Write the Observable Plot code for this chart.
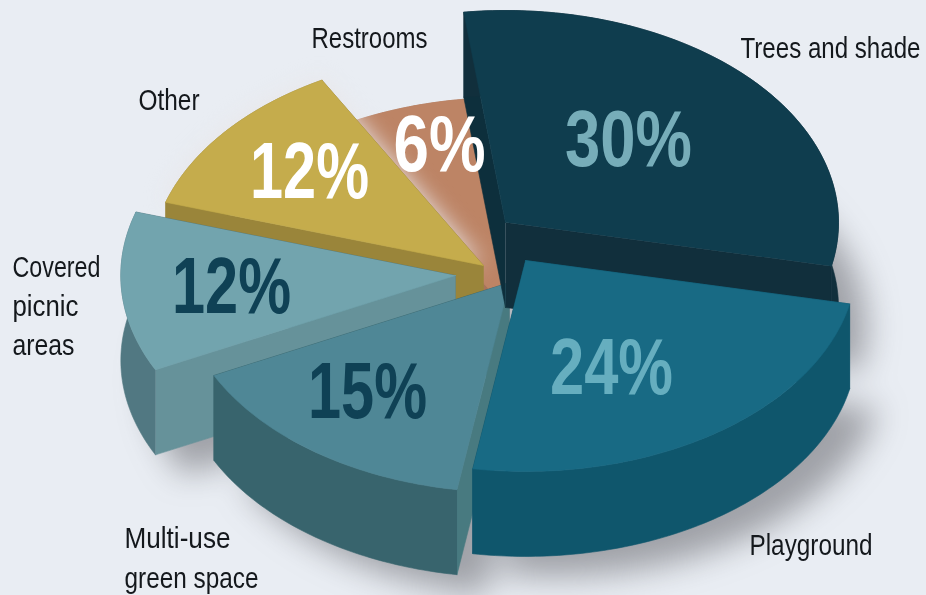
<!DOCTYPE html>
<html>
<head>
<meta charset="utf-8">
<script src="https://cdn.jsdelivr.net/npm/d3@7"></script>
<script src="https://cdn.jsdelivr.net/npm/@observablehq/plot@0.6"></script>
<style>
  html, body { margin: 0; padding: 0; background: #e9edf3; }
  svg { display: block; }
</style>
</head>
<body>
<div id="chart"></div>
<script>
// ---- values ----
const categories = ["Trees and shade", "Playground", "Multi-use green space", "Covered picnic areas", "Other", "Restrooms"];
const shares = [30, 24, 15, 12, 12, 6];

// ---- label text ----
const labelLines = [
  ["Trees and shade"], ["Playground"], ["Multi-use", "green space"],
  ["Covered", "picnic", "areas"], ["Other"], ["Restrooms"]
];

// ---- layout of the exploded pie (not data) ----
const startDeg = -7.2, rx = 333, ry = 212, depth = 85;
const apexX = [505, 525, 509, 455, 483, 506];
const apexY = [222, 260, 282, 275, 265, 309];
const radiusK = [1, 0.995, 0.99, 1.005, 1, 1];
const paintOrder = [5, 4, 3, 2, 0, 1];

// ---- styles ----
const topFill   = ["#0f3d4e", "#186a84", "#4f8796", "#72a4ae", "#c5ac4c", "#bd8465"];
const arcFill   = ["#112f3c", "#0f566c", "#38646d", "#517882", "#9a853a", "#a8745a"];
const startFill = ["#0d2f3c", "#0f566c", "#487a80", "#66929a", "#9a853a", "#a8745a"];
const endFill   = ["#112f3c", "#0f566c", "#38646d", "#517882", "#9a853a", "#a8745a"];
const pctFill   = ["#77adb9", "#66aebf", "#0f4155", "#0f4155", "#ffffff", "#ffffff"];
const pctX = [628, 611, 367, 231, 309, 439];
const pctY = [140, 368, 392, 287, 172, 145];
const labelX = [920, 872, 124, 12, 199, 427];
const labelY = [48, 545, 538, 267, 100, 38];
const labelStep = [0, 0, 40, 39, 0, 0];
const labelAnchor = ["end", "end", "start", "start", "end", "end"];
// drawn width of each text in the condensed look of the original
const textWidth = new Map([
  ["30%", 127], ["24%", 123], ["15%", 119], ["12%", 119], ["6%", 92],
  ["Trees and shade", 180], ["Playground", 123], ["Multi-use", 106], ["green space", 134],
  ["Covered", 88], ["picnic", 66], ["areas", 62], ["Other", 61], ["Restrooms", 116]
]);

// ---- geometry from the shares ----
const arcs = d3.pie().sort(null).value(d => d)
  .startAngle(startDeg * Math.PI / 180)
  .endAngle((startDeg + 360) * Math.PI / 180)(shares);

const rim = (i, a, drop = 0) => ({
  x: apexX[i] + rx * radiusK[i] * Math.sin(a),
  y: apexY[i] - ry * radiusK[i] * Math.cos(a) + drop
});
const apex = (i, drop = 0) => ({x: apexX[i], y: apexY[i] + drop});
const arcPts = (i, drop = 0) => {
  const {startAngle: a0, endAngle: a1} = arcs[i];
  const n = Math.ceil((a1 - a0) * 180 / Math.PI);
  return d3.range(n + 1).map(k => rim(i, a0 + (a1 - a0) * k / n, drop));
};
const poly = (id, color, pts) => pts.map(p => ({...p, id, color}));

const shadowRows = [], glowRows = [], bodyRows = [];
paintOrder.forEach(i => {
  const {startAngle: a0, endAngle: a1} = arcs[i];
  shadowRows.push(...poly(`shadow${i}`, "#55555c",
    [apex(i, depth), ...arcPts(i, depth)].map(p => ({x: p.x + 28, y: p.y + 20}))));
  if (categories[i] === "Other") {
    glowRows.push(...poly("glow", "#e9e6e8", [apex(i), ...arcPts(i)]));
  }
  bodyRows.push(
    ...poly(`end${i}`, endFill[i], [apex(i), rim(i, a1), rim(i, a1, depth), apex(i, depth)]),
    ...poly(`start${i}`, startFill[i], [apex(i), rim(i, a0), rim(i, a0, depth), apex(i, depth)]),
    ...poly(`arc${i}`, arcFill[i], [...arcPts(i), ...arcPts(i, depth).reverse()]),
    ...poly(`top${i}`, topFill[i], [apex(i), ...arcPts(i)])
  );
});
// bodies painted before and after the soft glow on the restrooms slice
const restId = new Set(["start5", "end5", "arc5", "top5"]);
const backRows = bodyRows.filter(d => restId.has(d.id));
const frontRows = bodyRows.filter(d => !restId.has(d.id));

const faces = rows => Plot.line(rows, {
  x: "x", y: "y", z: "id", fill: "color", stroke: "color", strokeWidth: 0.6
});

const pctRows = shares.map((s, i) => ({text: `${s}%`, x: pctX[i], y: pctY[i], color: pctFill[i]}));
const labelRows = labelLines.flatMap((lines, i) =>
  lines.map((text, k) => ({text, x: labelX[i], y: labelY[i] + k * labelStep[i], anchor: labelAnchor[i]})));

const font = "'Liberation Sans', sans-serif";

const plot = Plot.plot({
  width: 926, height: 595, margin: 0,
  style: {background: "#e9edf3", filter: "blur(0.4px)"},
  x: {domain: [0, 926], axis: null},
  y: {domain: [595, 0], axis: null},
  color: {type: "identity"},
  marks: [
    Plot.line(shadowRows, {x: "x", y: "y", z: "id", fill: "color", stroke: "none", fillOpacity: 0.5, imageFilter: "blur(16px)"}),
    faces(backRows),
    Plot.line(glowRows, {x: "x", y: "y", z: "id", fill: "color", stroke: "none", imageFilter: "blur(11px)"}),
    faces(frontRows),
    Plot.text(pctRows, {x: "x", y: "y", text: "text", fill: "color", fontFamily: font, fontSize: 80, fontWeight: 700}),
    Plot.text(labelRows.filter(d => d.anchor === "start"), {x: "x", y: "y", text: "text", textAnchor: "start", fill: "#14181c", fontFamily: font, fontSize: 30}),
    Plot.text(labelRows.filter(d => d.anchor === "end"), {x: "x", y: "y", text: "text", textAnchor: "end", fill: "#14181c", fontFamily: font, fontSize: 30})
  ]
});
// squeeze the installed sans into the condensed widths of the original
plot.querySelectorAll("text").forEach(t => {
  const w = textWidth.get(t.textContent);
  if (w) {
    t.setAttribute("textLength", w);
    t.setAttribute("lengthAdjust", "spacingAndGlyphs");
  }
});
document.getElementById("chart").append(plot);
</script>
</body>
</html>
